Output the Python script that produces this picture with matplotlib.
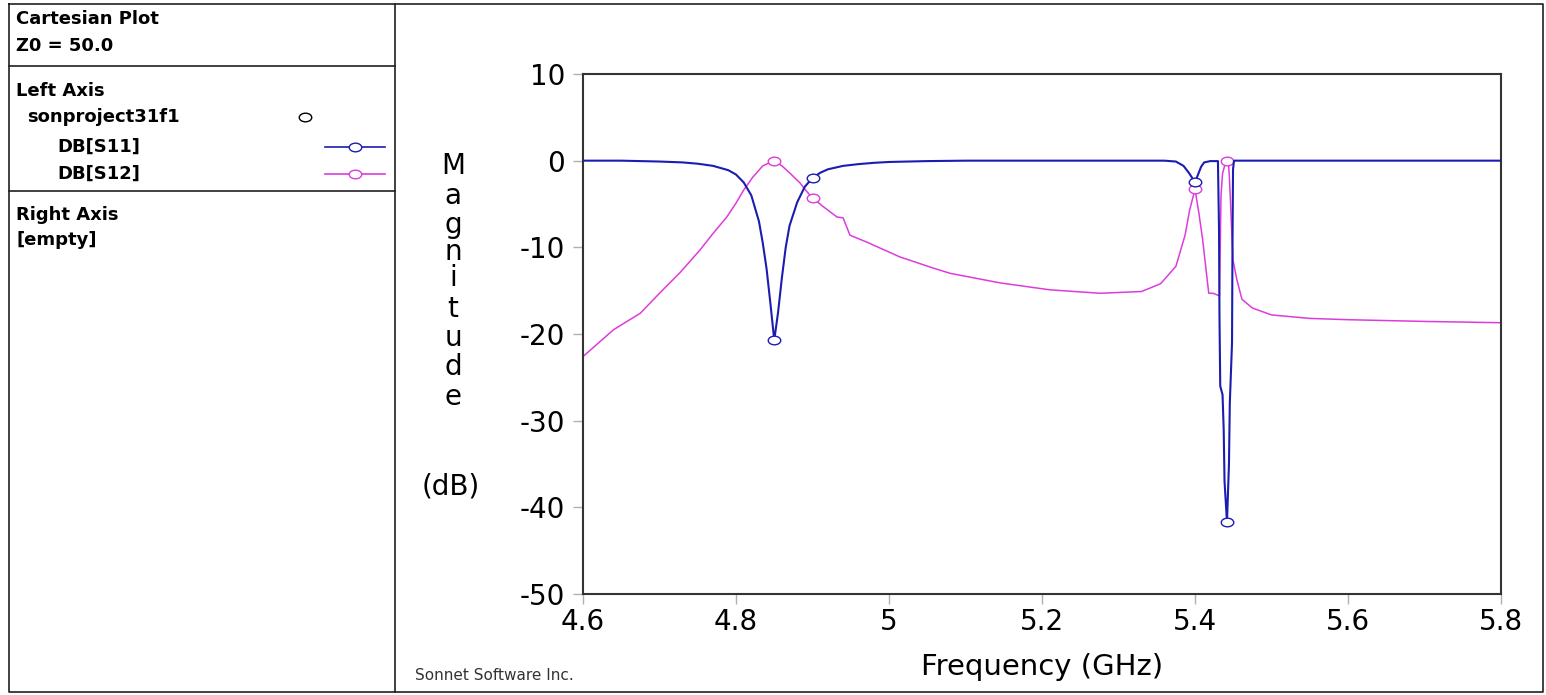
import matplotlib
matplotlib.use("Agg")
import matplotlib.pyplot as plt
from matplotlib.path import Path
from matplotlib.transforms import Affine2D

# ---------------- data ----------------
s11_freq = [4.60, 4.65, 4.70, 4.73, 4.75, 4.77, 4.79, 4.80, 4.81, 4.82, 4.83, 4.835,
            4.84, 4.845, 4.85, 4.855, 4.86, 4.865, 4.87, 4.88, 4.89, 4.90, 4.91, 4.92,
            4.94, 4.96, 4.98, 5.00, 5.05, 5.10, 5.20, 5.30, 5.36, 5.375, 5.385, 5.392,
            5.40, 5.404, 5.408, 5.412, 5.42, 5.4300, 5.4314, 5.4320, 5.4330, 5.4360,
            5.4375, 5.4386, 5.4418, 5.4444, 5.4455, 5.4484, 5.4490, 5.4497, 5.451,
            5.50, 5.60, 5.70, 5.80]
s11_db = [0.0, 0.0, -0.1, -0.2, -0.35, -0.6, -1.1, -1.6, -2.5, -4.0, -7.0, -9.5,
          -12.5, -16.5, -20.7, -17.5, -13.5, -10.0, -7.5, -4.8, -3.0, -2.0, -1.4, -1.0,
          -0.6, -0.4, -0.25, -0.15, -0.05, 0.0, 0.0, 0.0, 0.0, -0.1, -0.6, -1.4,
          -2.5, -1.6, -0.7, -0.2, -0.05, -0.05, -8.0, -18.0, -26.0, -27.0,
          -31.0, -37.0, -41.7, -35.0, -28.0, -21.0, -10.0, -1.0, 0.0,
          0.0, 0.0, 0.0, 0.0]

s12_freq = [4.60, 4.64, 4.675, 4.70, 4.727, 4.753, 4.77, 4.788, 4.80, 4.81, 4.822,
            4.835, 4.85, 4.86, 4.87, 4.884, 4.89, 4.90, 4.914, 4.932, 4.94, 4.949,
            4.971, 5.014, 5.058, 5.08, 5.145, 5.21, 5.276, 5.33, 5.355, 5.375, 5.387,
            5.393, 5.40, 5.405, 5.41, 5.416, 5.418, 5.4235, 5.4320, 5.4330, 5.4340,
            5.4360, 5.4390, 5.4418, 5.4440, 5.4450, 5.4465, 5.4484, 5.4497, 5.4549,
            5.4614, 5.475, 5.50, 5.55, 5.60, 5.70, 5.80]
s12_db = [-22.6, -19.5, -17.6, -15.3, -12.9, -10.3, -8.4, -6.5, -4.9, -3.4, -1.9,
          -0.6, 0.0, -0.6, -1.4, -2.6, -3.3, -4.3, -5.3, -6.5, -6.6, -8.6,
          -9.4, -11.1, -12.4, -13.0, -14.1, -14.9, -15.3, -15.1, -14.2, -12.2, -8.6,
          -5.7, -3.3, -6.0, -9.1, -13.8, -15.3, -15.3, -15.6, -10.0, -4.0,
          -1.5, -0.5, 0.0, -0.6, -2.0, -5.0, -9.0, -11.5, -13.8,
          -16.0, -17.0, -17.8, -18.2, -18.35, -18.55, -18.7]

marker_freq = [4.85, 4.90, 5.40, 5.4418]

x_ticks = [4.6, 4.8, 5.0, 5.2, 5.4, 5.6, 5.8]
x_tick_labels = ["4.6", "4.8", "5", "5.2", "5.4", "5.6", "5.8"]
y_ticks = [10, 0, -10, -20, -30, -40, -50]
y_tick_labels = ["10", "0", "-10", "-20", "-30", "-40", "-50"]

series_names = ["DB[S11]", "DB[S12]"]
project_name = "sonproject31f1"

# ---------------- styling ----------------
W, H = 1546, 695
BLUE = "#1c1cb0"
PINK = "#dd3cdd"
FONT = "DejaVu Sans"

# horizontally stretched open-circle marker (ellipse)
ELLIPSE = Path.unit_circle().transformed(Affine2D().scale(1.45, 1.0))

fig = plt.figure(figsize=(W / 100, H / 100), dpi=100)
fig.patch.set_facecolor("white")

# overlay in pixel coordinates for frames and panel text
ov = fig.add_axes([0, 0, 1, 1], zorder=0)
ov.set_xlim(0, W)
ov.set_ylim(H, 0)
ov.axis("off")

frame_kw = dict(color="#202020", lw=1.2)
ov.plot([9, W - 3, W - 3, 9, 9], [4, 4, H - 3, H - 3, 4], **frame_kw)
ov.plot([395, 395], [4, H - 3], **frame_kw)
ov.plot([9, 395], [66, 66], **frame_kw)
ov.plot([9, 395], [191, 191], **frame_kw)

bold = dict(fontfamily=FONT, fontweight="bold", fontsize=13, va="center", ha="left", color="black")
ov.text(16, 19, "Cartesian Plot", **bold)
ov.text(16, 46, "Z0 = 50.0", **bold)
ov.text(16, 91, "Left Axis", **bold)
ov.text(27, 117, project_name, **bold)
ov.text(57, 147, series_names[0], **bold)
ov.text(57, 174, series_names[1], **bold)
ov.text(16, 215, "Right Axis", **bold)
ov.text(16, 240, "[empty]", **bold)

ov.plot([305], [117], marker=ELLIPSE, ms=9, mfc="white", mec="black", mew=1.0)
for yy, col in [(147, BLUE), (174, PINK)]:
    ov.plot([325, 385], [yy, yy], color=col, lw=1.2)
    ov.plot([355], [yy], marker=ELLIPSE, ms=9, mfc="white", mec=col, mew=1.0)

ov.text(415, 676, "Sonnet Software Inc.", fontfamily=FONT, fontsize=11, color="#333333",
        va="center", ha="left")

# y label: stacked letters
letters = list("Magnitude")
letter_y = [166, 196, 225, 252, 278, 309, 338, 367, 397]
for ch, yy in zip(letters, letter_y):
    ov.text(453, yy, ch, fontfamily=FONT, fontsize=20, ha="center", va="center", color="black")
ov.text(451, 487, "(dB)", fontfamily=FONT, fontsize=20, ha="center", va="center", color="black")

# ---------------- plot axes ----------------
L, R, T, B = 583, 1501, 74, 594
ax = fig.add_axes([L / W, (H - B) / H, (R - L) / W, (B - T) / H], zorder=1)
ax.set_facecolor("white")

s11_mark = [s11_freq.index(f) for f in marker_freq]
s12_mark = [s12_freq.index(f) for f in marker_freq]

ax.plot(s12_freq, s12_db, color=PINK, lw=1.1, marker=ELLIPSE, markevery=s12_mark,
        ms=9, mfc="white", mec=PINK, mew=1.0, zorder=2)
ax.plot(s11_freq, s11_db, color=BLUE, lw=1.5, marker=ELLIPSE, markevery=s11_mark,
        ms=9, mfc="white", mec=BLUE, mew=1.0, zorder=3)

ax.set_xlim(4.6, 5.8)
ax.set_ylim(-50, 10)
ax.set_xticks(x_ticks)
ax.set_xticklabels(x_tick_labels)
ax.set_yticks(y_ticks)
ax.set_yticklabels(y_tick_labels)
ax.tick_params(axis="both", direction="out", length=7, width=1, color="#b0b0b0",
               labelsize=20)
ax.tick_params(axis="y", pad=6)
ax.tick_params(axis="x", pad=3)
for lab in ax.get_xticklabels() + ax.get_yticklabels():
    lab.set_fontfamily(FONT)
for sp in ax.spines.values():
    sp.set_color("#333333")
    sp.set_linewidth(1.5)

ax.set_xlabel("Frequency (GHz)", fontfamily=FONT, fontsize=21, labelpad=12)

fig.savefig("out.png", dpi=100, facecolor="white")
